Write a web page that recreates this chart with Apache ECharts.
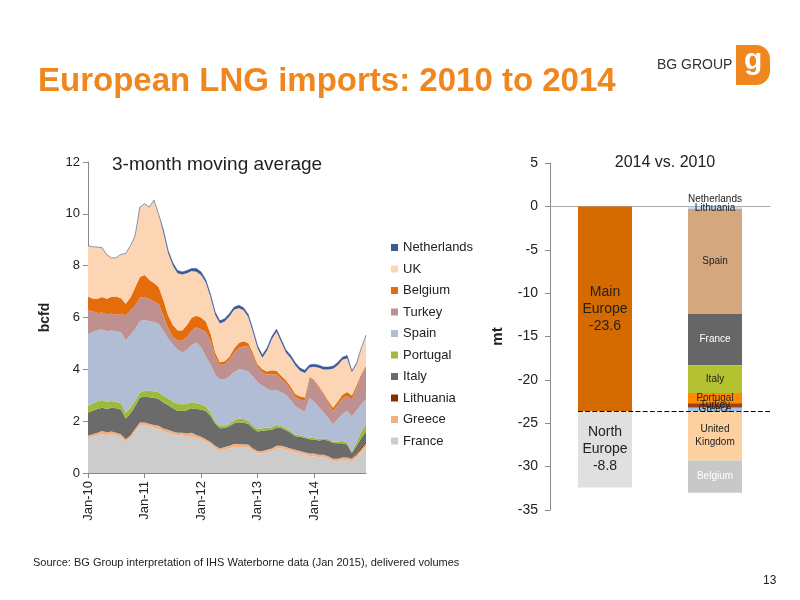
<!DOCTYPE html>
<html>
<head>
<meta charset="utf-8">
<script src="https://cdn.jsdelivr.net/npm/echarts@6/dist/echarts.min.js"></script>
<style>html,body{margin:0;padding:0;background:#fff}#c{width:800px;height:600px}</style>
</head>
<body>
<div id="c"></div>
<script>
// monthly categories Jan-10 .. Dec-14
var mon = ['Jan','Feb','Mar','Apr','May','Jun','Jul','Aug','Sep','Oct','Nov','Dec'];
var months = [];
for (var y = 10; y <= 14; y++) for (var m = 0; m < 12; m++) months.push(mon[m] + '-' + y);

var france = [1.35,1.4,1.45,1.5,1.45,1.5,1.45,1.4,1.2,1.35,1.6,1.85,
  1.85,1.8,1.75,1.7,1.6,1.55,1.5,1.45,1.45,1.4,1.4,1.35,
  1.3,1.2,1.1,0.95,0.85,0.9,0.95,1.0,1.0,1.0,1.0,0.85,
  0.75,0.75,0.8,0.85,0.95,0.95,0.9,0.85,0.8,0.75,0.7,0.65,
  0.65,0.6,0.6,0.55,0.45,0.45,0.5,0.5,0.45,0.6,0.8,1.0];
var greece = [0.1,0.1,0.1,0.12,0.12,0.1,0.1,0.1,0.1,0.1,0.1,0.1,
  0.1,0.1,0.1,0.12,0.12,0.12,0.1,0.1,0.1,0.12,0.15,0.12,
  0.1,0.1,0.1,0.1,0.1,0.1,0.1,0.12,0.12,0.1,0.1,0.1,
  0.1,0.1,0.1,0.1,0.1,0.1,0.1,0.1,0.1,0.1,0.1,0.1,
  0.1,0.1,0.1,0.1,0.1,0.1,0.1,0.1,0.1,0.1,0.12,0.15];
var lithuania = [0,0,0,0,0,0,0,0,0,0,0,0,0,0,0,0,0,0,0,0,0,0,0,0,0,0,0,0,0,0,
  0,0,0,0,0,0,0,0,0,0,0,0,0,0,0,0,0,0,0,0,0,0,0,0,0,0,0,0.05,0.08,0.08];
var italy = [0.87,0.9,0.92,0.9,0.9,0.92,0.95,0.95,0.8,0.85,0.88,0.95,
  1.0,1.02,1.05,1.04,1.0,0.95,0.9,0.85,0.84,0.9,0.95,1.0,
  1.05,1.09,1.0,0.85,0.78,0.74,0.75,0.8,0.84,0.84,0.8,0.78,
  0.75,0.78,0.75,0.72,0.7,0.69,0.65,0.6,0.52,0.55,0.55,0.55,
  0.54,0.55,0.58,0.6,0.61,0.6,0.55,0.5,0.22,0.3,0.35,0.37];
var portugal = [0.26,0.28,0.3,0.3,0.28,0.26,0.25,0.24,0.22,0.22,0.2,0.2,
  0.22,0.24,0.25,0.26,0.26,0.26,0.26,0.26,0.26,0.24,0.24,0.22,
  0.2,0.18,0.14,0.1,0.08,0.08,0.1,0.12,0.14,0.14,0.12,0.1,
  0.1,0.1,0.1,0.1,0.1,0.08,0.08,0.07,0.06,0.06,0.06,0.06,
  0.06,0.06,0.06,0.06,0.06,0.07,0.08,0.08,0.06,0.15,0.25,0.32];
var spain = [2.77,2.75,2.75,2.72,2.72,2.72,2.72,2.75,2.8,2.8,2.78,2.76,
  2.74,2.7,2.68,2.64,2.5,2.31,2.2,2.1,2.0,2.1,2.2,2.35,
  2.2,1.92,1.85,1.8,1.8,1.79,1.82,1.86,1.89,1.9,1.9,1.89,
  1.8,1.65,1.5,1.4,1.35,1.3,1.28,1.2,1.1,1.0,0.95,1.52,
  1.4,1.23,1.0,0.8,0.66,0.85,1.06,1.2,1.36,1.2,1.05,0.94];
var turkey = [0.95,0.8,0.65,0.65,0.65,0.65,0.64,0.7,0.96,0.95,0.9,0.9,
  0.88,0.85,0.8,0.76,0.6,0.4,0.3,0.35,0.45,0.5,0.55,0.58,
  0.7,0.96,0.9,0.7,0.56,0.6,0.65,0.75,0.83,0.9,0.95,0.8,
  0.6,0.52,0.55,0.64,0.6,0.5,0.45,0.4,0.35,0.37,0.45,0.77,
  0.8,0.77,0.7,0.6,0.51,0.55,0.58,0.6,0.65,0.9,1.1,1.29];
var belgium = [0.5,0.5,0.55,0.6,0.6,0.65,0.7,0.6,0.45,0.5,0.7,0.8,
  0.85,0.75,0.7,0.66,0.6,0.5,0.45,0.4,0.4,0.45,0.5,0.45,
  0.45,0.4,0.3,0.15,0.1,0.1,0.12,0.15,0.2,0.2,0.15,0.12,
  0.1,0.1,0.12,0.15,0.15,0.13,0.12,0.12,0.12,0.12,0.1,0.05,
  0.05,0.05,0.05,0.08,0.13,0.14,0.15,0.15,0.15,0.1,0.08,0.05];
var uk = [1.97,2.0,2.0,1.9,1.7,1.5,1.5,1.7,1.94,2.0,2.0,2.7,
  2.75,2.8,3.2,2.8,2.6,2.4,2.3,2.2,2.16,2.0,1.8,1.7,
  1.64,1.5,1.4,1.45,1.5,1.54,1.55,1.5,1.35,1.2,1.0,0.8,
  0.6,0.45,0.8,1.2,1.5,1.3,1.07,1.1,1.1,1.0,0.95,0.37,
  0.5,0.7,0.9,1.2,1.5,1.4,1.35,1.3,0.9,0.8,1.0,1.12];
var netherlands = [0,0,0,0,0,0,0,0,0,0,0,0,0,0,0,0,
  0.1,0.1,0.1,0.1,0.1,0.1,0.1,0.12,0.12,0.1,0.1,0.1,0.1,0.1,
  0.1,0.1,0.1,0.1,0.1,0.1,0.1,0.1,0.1,0.1,0.1,0.1,0.1,0.1,0.1,
  0.1,0.1,0.1,0.1,0.1,0.1,0.1,0.1,0.1,0.1,0.1,0.05,0.03,0,0];

// 2014 vs 2010 (mt)
var barCats = ['Regions', 'Countries'];
var mainEurope = -23.6, northEurope = -8.8;
var countryNames = ['Netherlands','Lithuania','Spain','France','Italy','Portugal','Turkey','Greece','United\nKingdom','Belgium'];
var countryVals = [-0.1,-0.2,-12.1,-5.9,-3.2,-1.2,-0.5,-0.4,-5.7,-3.7];
var countryColors = ['#9dc3e6','#c6d9f1','#d4a77f','#666666','#b4c232','#ff8a00','#a0401a','#9dc3e6','#fdd0a0','#c8c8c8'];
var countryLabelColors = ['#222','#222','#222','#fff','#222','#222','#222','#222','#222','#fff'];

var areaDefs = [
  ['France', france, '#cccccc'],
  ['Greece', greece, '#f2b183'],
  ['Lithuania', lithuania, '#8b2a00'],
  ['Italy', italy, '#6b6b6b'],
  ['Portugal', portugal, '#9bbb3a'],
  ['Spain', spain, '#b1bcd5'],
  ['Turkey', turkey, '#bf9090'],
  ['Belgium', belgium, '#e46c0a'],
  ['UK', uk, '#fcd5b5'],
  ['Netherlands', netherlands, '#3a5a9a']
];

var series = areaDefs.map(function (d) {
  return {
    name: d[0], type: 'line', stack: 'lng', data: d[1],
    xAxisIndex: 0, yAxisIndex: 0,
    symbol: 'none', smooth: false,
    lineStyle: { width: d[0] === 'Netherlands' ? 0.6 : 0, color: d[2] },
    itemStyle: { color: d[2] },
    areaStyle: { color: d[2], opacity: 1 }
  };
});

series.push({
  name: 'Main Europe', type: 'bar', stack: 'cmp', xAxisIndex: 1, yAxisIndex: 1,
  barWidth: 54, data: [mainEurope, '-'],
  itemStyle: { color: '#d46a00' },
  label: { show: true, position: 'inside', color: '#222', fontSize: 14, lineHeight: 17,
    formatter: 'Main\nEurope\n' + mainEurope },
  markLine: { symbol: 'none', silent: true, label: { show: false },
    lineStyle: { type: 'dashed', color: '#000', width: 1.2 },
    data: [[{ xAxis: 'Regions', yAxis: mainEurope, x: 578 }, { xAxis: 'Countries', yAxis: mainEurope, x: 770 }]] }
});
series.push({
  name: 'North Europe', type: 'bar', stack: 'cmp', xAxisIndex: 1, yAxisIndex: 1,
  barWidth: 54, data: [northEurope, '-'],
  itemStyle: { color: '#e0e0e0' },
  label: { show: true, position: 'inside', color: '#222', fontSize: 14, lineHeight: 17,
    formatter: 'North\nEurope\n' + northEurope }
});
countryNames.forEach(function (n, i) {
  series.push({
    name: n, type: 'bar', stack: 'cmp', xAxisIndex: 1, yAxisIndex: 1,
    barWidth: 54, data: ['-', countryVals[i]],
    itemStyle: { color: countryColors[i] },
    label: { show: true, position: i === 0 ? 'top' : 'inside', distance: 1,
      color: countryLabelColors[i], fontSize: 10, lineHeight: 13, formatter: n }
  });
});

var chart = echarts.init(document.getElementById('c'));
chart.setOption({
  animation: false,
  textStyle: { fontFamily: 'Liberation Sans, Arial, sans-serif' },
  title: [
    { text: 'European LNG imports: 2010 to 2014', left: 33, top: 60,
      textStyle: { color: '#f0861e', fontSize: 33, fontWeight: 'bold' } },
    { text: '3-month moving average', left: 107, top: 150,
      textStyle: { color: '#222', fontSize: 19, fontWeight: 'normal' } },
    { text: '2014 vs. 2010', left: 660, textAlign: 'center', top: 150,
      textStyle: { color: '#222', fontSize: 16, fontWeight: 'normal' } }
  ],
  legend: {
    data: ['Netherlands','UK','Belgium','Turkey','Spain','Portugal','Italy','Lithuania','Greece','France'],
    orient: 'vertical', left: 386, top: 236, itemGap: 8.5,
    itemWidth: 7, itemHeight: 7, icon: 'rect',
    textStyle: { fontSize: 13, color: '#222' }
  },
  grid: [
    { left: 88, right: 434, top: 162, bottom: 127 },
    { left: 550, right: 30, top: 163, bottom: 90 }
  ],
  xAxis: [
    { type: 'category', gridIndex: 0, data: months, boundaryGap: false,
      axisLine: { lineStyle: { color: '#888' } },
      axisTick: { interval: 11, alignWithLabel: true, lineStyle: { color: '#888' } },
      axisLabel: { interval: 11, rotate: 90, color: '#222', fontSize: 13 } },
    { type: 'category', gridIndex: 1, data: barCats,
      axisLine: { onZero: true, lineStyle: { color: '#aaa' } },
      axisTick: { lineStyle: { color: '#aaa' } },
      axisLabel: { show: false } }
  ],
  yAxis: [
    { type: 'value', gridIndex: 0, min: 0, max: 12, interval: 2,
      name: 'bcfd', nameLocation: 'middle', nameGap: 36, nameRotate: 90,
      nameTextStyle: { fontWeight: 'bold', fontSize: 14, color: '#222' },
      axisLine: { show: true, lineStyle: { color: '#888' } },
      axisTick: { show: true, lineStyle: { color: '#888' } },
      splitLine: { show: false },
      axisLabel: { color: '#222', fontSize: 13 } },
    { type: 'value', gridIndex: 1, min: -35, max: 5, interval: 5,
      name: 'mt', nameLocation: 'middle', nameGap: 45, nameRotate: 90,
      nameTextStyle: { fontWeight: 'bold', fontSize: 15, color: '#222' },
      axisLine: { show: true, lineStyle: { color: '#888' } },
      axisTick: { show: true, lineStyle: { color: '#888' } },
      splitLine: { show: false },
      axisLabel: { color: '#222', fontSize: 14, margin: 12 } }
  ],
  graphic: [
    { type: 'text', left: 657, top: 58, style: { text: 'BG GROUP', fill: '#333', font: '14px Liberation Sans, Arial' } },
    { type: 'rect', left: 736, top: 45, shape: { width: 34, height: 40, r: [0, 14, 14, 0] }, style: { fill: '#f0861e' } },
    { type: 'text', left: 744, top: 46, style: { text: 'g', fill: '#fff', font: 'bold 30px Liberation Sans, Arial' } },
    { type: 'text', left: 33, top: 557, style: { text: 'Source: BG Group interpretation of IHS Waterborne data (Jan 2015), delivered volumes', fill: '#222', font: '11px Liberation Sans, Arial' } },
    { type: 'text', left: 763, top: 575, style: { text: '13', fill: '#222', font: '12px Liberation Sans, Arial' } }
  ],
  series: series
});
</script>
</body>
</html>
